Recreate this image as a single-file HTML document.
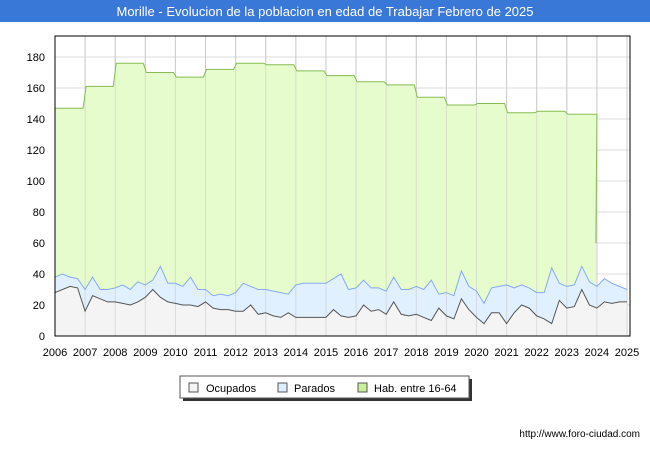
<!DOCTYPE html>
<html><head><meta charset="utf-8"><style>
body{margin:0;background:#fff;font-family:"Liberation Sans",sans-serif;}
#wrap{position:relative;width:650px;height:450px;background:#fff;}
</style></head><body>
<div id="wrap">
<svg id="chart" width="650" height="450" xmlns="http://www.w3.org/2000/svg">
<rect x="0" y="0" width="650" height="22" fill="#3a78d8"/>
<text x="325" y="16" text-anchor="middle" fill="#fff" font-size="13" font-family="Liberation Sans, sans-serif">Morille - Evolucion de la poblacion en edad de Trabajar Febrero de 2025</text>
<g id="grid"></g>
<g id="areas"></g>
<g id="axes"></g>
<g>
<rect x="183" y="379" width="289" height="22" fill="#333"/>
<rect x="180" y="376" width="289" height="22" fill="#fff" stroke="#555"/>
<rect x="189" y="383" width="9" height="9" fill="#f4f4f4" stroke="#555"/>
<text x="206" y="392" font-size="11" fill="#000">Ocupados</text>
<rect x="278" y="383" width="9" height="9" fill="#ddeeff" stroke="#555"/>
<text x="294" y="392" font-size="11" fill="#000">Parados</text>
<rect x="358" y="383" width="9" height="9" fill="#ccee99" stroke="#555"/>
<text x="374" y="392" font-size="11" fill="#000">Hab. entre 16-64</text>
</g>
<text x="640" y="437" text-anchor="end" font-size="10" fill="#000">http://www.foro-ciudad.com</text>
</svg>
</div>
<script>
const years = [2006,2007,2008,2009,2010,2011,2012,2013,2014,2015,2016,2017,2018,2019,2020,2021,2022,2023,2024,2025];
const yTicks = [0,20,40,60,80,100,120,140,160,180];
const habYearly = [147,161,176,170,167,172,176,175,171,168,164,162,154,149,150,144,145,143,60];
const ocupados = [28,30,32,31, 16,26,24,22, 22,21,20,22, 25,30,25,22, 21,20,20,19, 22,18,17,17, 16,16,20,14, 15,13,12,15, 12,12,12,12, 12,17,13,12, 13,20,16,17, 14,22,14,13, 14,12,10,18, 13,11,24,17, 12,8,15,15, 8,15,20,18, 13,11,8,23, 18,19,30,20, 18,22,21,22, 22];
const parados = [10,10,6,6, 14,12,6,8, 9,12,10,13, 8,6,20,12, 13,12,18,11, 8,8,10,9, 12,18,12,16, 15,16,16,12, 21,22,22,22, 22,20,27,18, 18,16,15,14, 15,16,16,17, 18,18,26,9, 15,15,18,15, 17,13,16,17, 25,16,13,13, 15,17,36,11, 14,14,15,15, 14,15,13,10, 8];

const NS="http://www.w3.org/2000/svg";
const X0=55,X1=627,Y0=336,PY=1.55;
const xs=y=>X0+(y-2006)*(X1-X0)/19;
const ys=v=>Y0-v*PY;
function mk(tag,attrs,parent){const e=document.createElementNS(NS,tag);for(const k in attrs)e.setAttribute(k,attrs[k]);parent.appendChild(e);return e;}
const grid=document.getElementById('grid'),areas=document.getElementById('areas'),axes=document.getElementById('axes');
mk('rect',{x:X0,y:36,width:X1-X0+3,height:Y0-36,fill:'#fff'},grid);
// hab area
let hp=[];
habYearly.forEach((v,i)=>{const y=2006+i;hp.push([xs(y)+(i?1:0),ys(v)]);hp.push([xs(y+1)-(i<habYearly.length-1?2:29),ys(v)]);});
hp[hp.length-2]=[xs(2024),ys(143)];hp[hp.length-1]=[xs(2024)-1,ys(habYearly[habYearly.length-1])];
const habArea=mk('path',{d:'M'+X0+','+Y0+' '+hp.map(p=>'L'+p[0]+','+p[1]).join(' ')+' L'+hp[hp.length-1][0]+','+Y0+'Z',fill:'#e6fccc',stroke:'none'},areas);


// gridlines
yTicks.forEach(t=>{const l=mk('line',{x1:X0,x2:X1+3,y1:ys(t),y2:ys(t),stroke:'#ddd','stroke-width':1},grid);});
years.forEach(y=>{mk('line',{x1:xs(y),x2:xs(y),y1:36,y2:Y0,stroke:'#ccc','stroke-width':1},grid);});
const qx=i=>xs(2006+i/4);
const tot=ocupados.map((v,i)=>v+parados[i]);
const totPts=tot.map((v,i)=>[qx(i),ys(v)]),ocPts=ocupados.map((v,i)=>[qx(i),ys(v)]);
const line=p=>p.map((q,i)=>(i?'L':'M')+q[0].toFixed(1)+','+q[1].toFixed(1)).join(' ');
const last=qx(tot.length-1);
const pa=mk('path',{d:line(totPts)+' L'+last+','+Y0+' L'+X0+','+Y0+'Z',fill:'#e0f0ff'},areas);


const oa=mk('path',{d:line(ocPts)+' L'+last+','+Y0+' L'+X0+','+Y0+'Z',fill:'#f4f4f4'},areas);


// redraw vertical grid lightly over
years.forEach(y=>{mk('line',{x1:xs(y),x2:xs(y),y1:36,y2:Y0,stroke:'#ccc','stroke-width':1,opacity:0.6},areas);});
const hl=mk('path',{d:line(hp),fill:'none',stroke:'#88bb55','stroke-width':1},areas);


const pl=mk('path',{d:line(totPts),fill:'none',stroke:'#88aaee','stroke-width':1},areas);


const ol=mk('path',{d:line(ocPts),fill:'none',stroke:'#555','stroke-width':1},areas);


// axes frame
mk('rect',{x:X0,y:36,width:X1-X0+3,height:Y0-36,fill:'none',stroke:'#000','stroke-width':1},axes);
yTicks.forEach(t=>{const e=mk('text',{x:X0-10,y:ys(t)+4,'text-anchor':'end','font-size':11,fill:'#000'},axes);e.textContent=t;

});
years.forEach(y=>{const e=mk('text',{x:xs(y),y:356,'text-anchor':'middle','font-size':11,fill:'#000'},axes);e.textContent=y;

});
</script>
</body></html>
